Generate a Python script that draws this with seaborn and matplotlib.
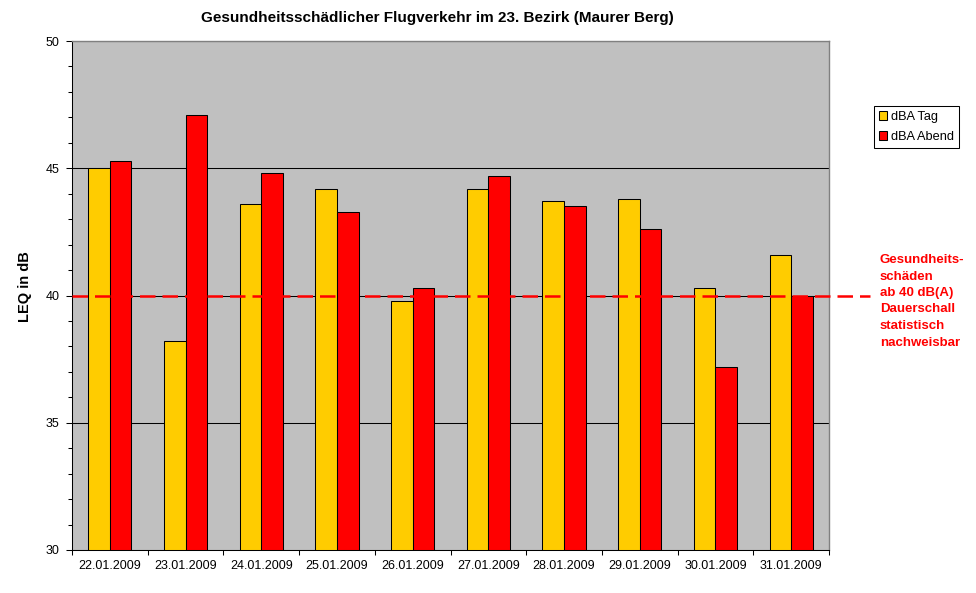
import matplotlib
matplotlib.use("Agg")
import matplotlib.pyplot as plt
from matplotlib.patches import Patch
import numpy as np
import pandas as pd
import seaborn as sns

# data
dates = ['22.01.2009', '23.01.2009', '24.01.2009', '25.01.2009', '26.01.2009',
         '27.01.2009', '28.01.2009', '29.01.2009', '30.01.2009', '31.01.2009']
dba_tag = [45.0, 38.2, 43.6, 44.2, 39.8, 44.2, 43.7, 43.8, 40.3, 41.6]
dba_abend = [45.3, 47.1, 44.8, 43.3, 40.3, 44.7, 43.5, 42.6, 37.2, 40.0]
series_names = ['dBA Tag', 'dBA Abend']
series_colors = ['#FFCC00', '#FF0000']
threshold = 40
note_lines = ['Gesundheits-', 'schäden', 'ab 40 dB(A)', 'Dauerschall',
              'statistisch', 'nachweisbar']
title = 'Gesundheitsschädlicher Flugverkehr im 23. Bezirk (Maurer Berg)'

sns.set_style('white')
plt.rcParams['font.family'] = ['Liberation Sans', 'DejaVu Sans']
plt.rcParams['text.color'] = 'black'
plt.rcParams['xtick.color'] = 'black'
plt.rcParams['ytick.color'] = 'black'

df = pd.DataFrame({
    'Datum': dates * 2,
    'Serie': [series_names[0]] * len(dates) + [series_names[1]] * len(dates),
    'LEQ': dba_tag + dba_abend,
})

fig = plt.figure(figsize=(9.76, 5.93), dpi=100)
ax = fig.add_axes([72 / 976, 43 / 593, 757 / 976, 509 / 593])
ax.set_facecolor('#C0C0C0')

sns.barplot(data=df, x='Datum', y='LEQ', hue='Serie', order=dates,
            hue_order=series_names, palette=series_colors, saturation=1,
            width=0.57, edgecolor='black', linewidth=0.75, errorbar=None,
            legend=False, ax=ax)

ax.set_xlim(-0.5, len(dates) - 0.5)
ax.set_ylim(30, 50)
ax.set_yticks(np.arange(30, 51, 5))
ax.set_yticks(np.arange(30, 51, 1), minor=True)
ax.set_xticks(np.arange(-0.5, len(dates), 1), minor=True)
ax.set_xlabel('')
ax.set_ylabel('')

ax.yaxis.grid(True, which='major', color='black', linewidth=0.75)
ax.set_axisbelow(True)

ax.tick_params(axis='y', which='major', length=4, width=0.75, pad=5,
               labelsize=9, left=True, colors='black')
ax.tick_params(axis='y', which='minor', length=3, width=0.75, left=True)
ax.tick_params(axis='x', which='major', length=0, pad=7, labelsize=9,
               colors='black')
ax.tick_params(axis='x', which='minor', length=3.6, width=0.75, bottom=True)

for side in ['left', 'bottom']:
    ax.spines[side].set_color('black')
    ax.spines[side].set_linewidth(0.75)
for side in ['top', 'right']:
    ax.spines[side].set_visible(True)
    ax.spines[side].set_color('#808080')
    ax.spines[side].set_linewidth(1.0)

# dashed threshold line running past the plot area
ax.plot([0, 1.054], [threshold, threshold], transform=ax.get_yaxis_transform(),
        color='red', linewidth=1.8, dashes=(6.2, 2.8), clip_on=False, zorder=5)

handles = [Patch(facecolor=c, edgecolor='black', linewidth=0.75) for c in series_colors]
fig.legend(handles, series_names, loc='upper left',
           bbox_to_anchor=(874 / 976, 1 - 106 / 593), frameon=True,
           fancybox=False, edgecolor='black', framealpha=1, fontsize=9.2,
           handlelength=0.65, handleheight=0.65, handletextpad=0.3,
           borderpad=0.4, labelspacing=0.6, borderaxespad=0)
fig.legends[0].get_frame().set_linewidth(0.75)

fig.text(437 / 976, 1 - 18 / 593, title, ha='center', va='center',
         fontsize=11, fontweight='bold')
fig.text(25 / 976, 1 - 287 / 593, 'LEQ in dB', rotation=90, ha='center',
         va='center', fontsize=10.5, fontweight='bold')
fig.text(880 / 976, 1 - 254 / 593, '\n'.join(note_lines), ha='left', va='top',
         color='red', fontsize=9.5, fontweight='bold', linespacing=1.5)

fig.savefig('out.png', dpi=100)
